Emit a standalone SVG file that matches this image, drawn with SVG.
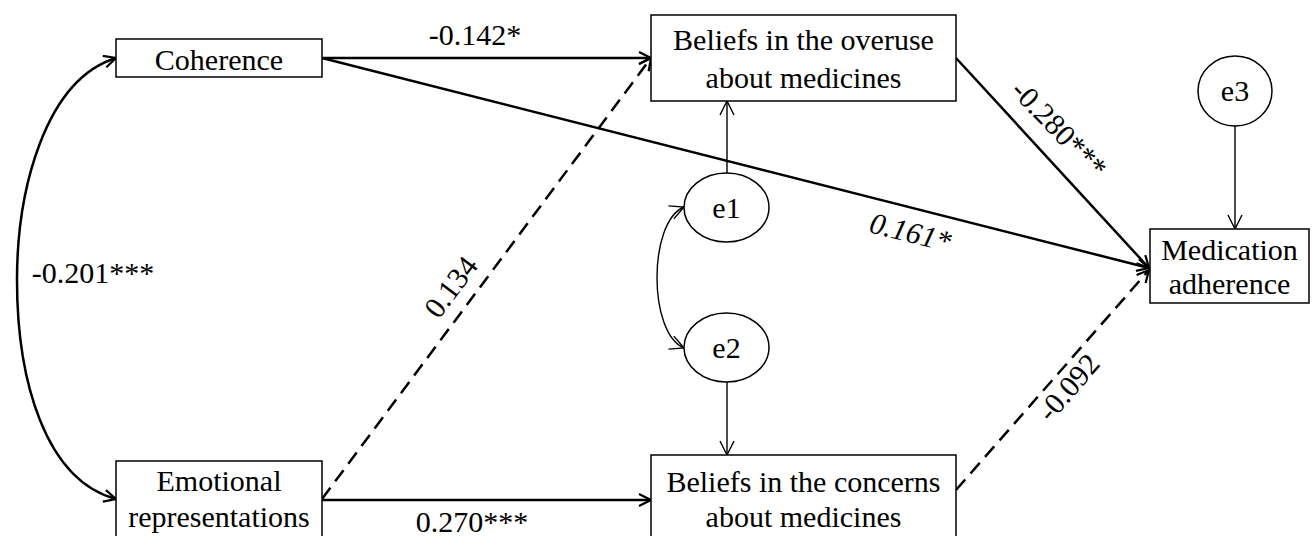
<svg xmlns="http://www.w3.org/2000/svg" width="1314" height="536" viewBox="0 0 1314 536">
<style>
text{font-family:"Liberation Serif","DejaVu Serif",serif;font-size:30px;fill:#000;text-anchor:middle}
.box{fill:#fff;stroke:#000;stroke-width:1.5}
.thick{fill:none;stroke:#000;stroke-width:2.5}
.thin{fill:none;stroke:#000;stroke-width:1.4}
.dash{stroke-dasharray:14,8}
</style>
<defs>
<marker id="ah" viewBox="0 0 14 14" refX="13" refY="7" markerWidth="14" markerHeight="14" markerUnits="userSpaceOnUse" orient="auto-start-reverse">
<path d="M1,1 L13,7 L1,13" fill="none" stroke="#000" stroke-width="2.2"/>
</marker>
<marker id="ahs" viewBox="0 0 16 16" refX="15" refY="8" markerWidth="16" markerHeight="16" markerUnits="userSpaceOnUse" orient="auto-start-reverse">
<path d="M1,1 L15,8 L1,15" fill="none" stroke="#000" stroke-width="1.4"/>
</marker>
</defs>
<rect width="1314" height="536" fill="#fff"/>
<g id="connectors">
<path class="thick" d="M116,58 C45,80 17,190 17,280 C17,380 45,480 116,499" marker-start="url(#ah)" marker-end="url(#ah)"/>
<line class="thick" x1="322" y1="58" x2="651" y2="58" marker-end="url(#ah)"/>
<line class="thick" x1="322" y1="58" x2="1149" y2="268" marker-end="url(#ah)"/>
<line class="thick dash" x1="322" y1="499" x2="651" y2="58" marker-end="url(#ah)"/>
<line class="thick" x1="322" y1="500" x2="651" y2="500" marker-end="url(#ah)"/>
<line class="thick" x1="956" y1="58" x2="1149" y2="268" marker-end="url(#ah)"/>
<line class="thick dash" x1="956" y1="490" x2="1149" y2="270" marker-end="url(#ah)"/>
<line class="thin" x1="727" y1="173" x2="727" y2="101" marker-end="url(#ahs)"/>
<line class="thin" x1="727" y1="382" x2="727" y2="455" marker-end="url(#ahs)"/>
<line class="thin" x1="1235" y1="126" x2="1235" y2="229" marker-end="url(#ahs)"/>
<path class="thin" d="M684,207 C648,222 648,333 684,348" marker-start="url(#ahs)" marker-end="url(#ahs)"/>
<text x="475" y="45">-0.142*</text>
<text x="93" y="283">-0.201***</text>
<text x="472" y="532">0.270***</text>
<text transform="translate(908,242) rotate(14.2)" font-style="italic">0.161*</text>
<text transform="translate(459,293) rotate(-53)">0.134</text>
<text transform="translate(1052,136) rotate(46)">-0.280***</text>
<text transform="translate(1076,394) rotate(-49)">-0.092</text>
</g>
<g id="coherence"><rect class="box" x="116" y="39" width="206" height="38"/><text x="219" y="70">Coherence</text></g>
<g id="emotional"><rect class="box" x="116" y="461" width="206" height="78"/><text x="219" y="491">Emotional</text><text x="219" y="527">representations</text></g>
<g id="overuse"><rect class="box" x="651" y="15" width="305" height="86"/><text x="803.5" y="50">Beliefs in the overuse</text><text x="803.5" y="88">about medicines</text></g>
<g id="concerns"><rect class="box" x="651" y="455" width="305" height="84"/><text x="803.5" y="492">Beliefs in the concerns</text><text x="803.5" y="527">about medicines</text></g>
<g id="adherence"><rect class="box" x="1150" y="229" width="159" height="74"/><text x="1229.5" y="260">Medication</text><text x="1229.5" y="294">adherence</text></g>
<g id="e1"><ellipse class="box" cx="726.5" cy="207.5" rx="42.5" ry="34.5"/><text x="726.5" y="218">e1</text></g>
<g id="e2"><ellipse class="box" cx="726.5" cy="347.5" rx="42.5" ry="34.5"/><text x="726.5" y="358">e2</text></g>
<g id="e3"><ellipse class="box" cx="1235" cy="91" rx="37" ry="35"/><text x="1235" y="101">e3</text></g>
</svg>
